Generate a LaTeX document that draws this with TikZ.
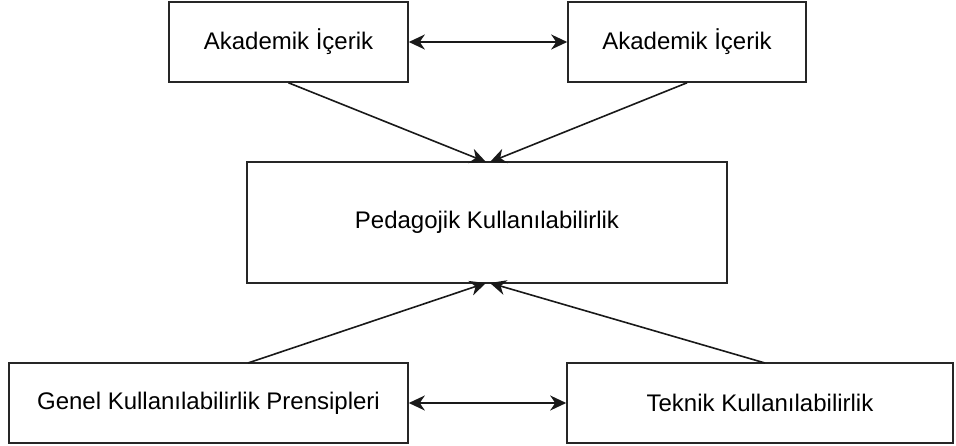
\documentclass[tikz,border=0pt]{standalone}
\usepackage{fontspec}
\setmainfont{Liberation Sans}
\usetikzlibrary{arrows.meta}
\begin{document}
\begin{tikzpicture}[x=1pt,y=-1pt,
  box/.style={draw=black!85,line width=1.6pt,fill=white,inner sep=0pt,font=\fontsize{24}{28}\selectfont},
  tip/.tip={Stealth[length=16pt,width=15pt,inset=5pt]},
  conn/.style={line width=1.6pt,draw=black!90,-tip},
  biconn/.style={line width=1.6pt,draw=black!90,tip-tip}]
\useasboundingbox (0,0) rectangle (956,446);
\node[box,minimum width=239pt,minimum height=80pt] (tl) at (288.5,42) {Akademik İçerik};
\node[box,minimum width=238pt,minimum height=80pt] (tr) at (687,42) {Akademik İçerik};
\node[box,minimum width=480pt,minimum height=121pt] (mid) at (487,222.5) {Pedagojik Kullanılabilirlik};
\node[box,minimum width=399pt,minimum height=80pt] (bl) at (208.5,403) {Genel Kullanılabilirlik Prensipleri};
\node[box,minimum width=386pt,minimum height=80pt] (br) at (760,403) {Teknik Kullanılabilirlik};
\coordinate (mt1) at (486,162);
\coordinate (mt2) at (490,162);
\coordinate (mb1) at (486,283);
\coordinate (mb2) at (490,283);
\coordinate (blt) at (248,363);
\coordinate (brt) at (765,363);
\draw[biconn] (tl.east) -- (tr.west);
\draw[biconn] (bl.east) -- (br.west);
\draw[conn] (tl.south) -- (mt1);
\draw[conn] (tr.south) -- (mt2);
\draw[conn] (blt) -- (mb1);
\draw[conn] (brt) -- (mb2);
\end{tikzpicture}
\end{document}
